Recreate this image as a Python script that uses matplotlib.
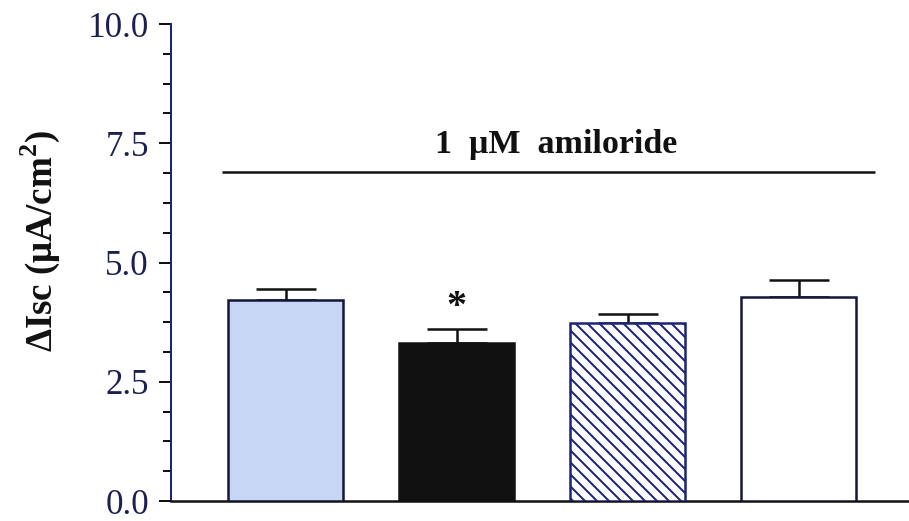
"""Amiloride-sensitive Isc bar chart."""
import matplotlib
matplotlib.use("Agg")
import matplotlib.pyplot as plt
import matplotlib.ticker as mticker
import numpy as np

plt.rcParams["font.family"] = ["Liberation Serif", "DejaVu Serif"]
plt.rcParams["mathtext.fontset"] = "custom"
plt.rcParams["mathtext.bf"] = "Liberation Serif:bold"
plt.rcParams["mathtext.rm"] = "Liberation Serif:bold"
plt.rcParams["hatch.linewidth"] = 2.0

# ── data ─────────────────────────────────────────────────────────────────────
groups = ["ctrl", "treated", "hatched", "open"]
means = [4.21, 3.31, 3.74, 4.27]
sems = [0.23, 0.29, 0.19, 0.36]
significant = [False, True, False, False]

fills = ["#c6d6f4", "#111111", "white", "white"]
hatches = [None, None, "\\\\", None]
edges = ["#14163a", "#111111", "#1c237a", "#14163a"]

NAVY = "#1b1f52"
DPI = 72

fig = plt.figure(figsize=(909 / DPI, 521 / DPI), dpi=DPI)
ax = fig.add_axes([171 / 909, 20 / 521, 738 / 909, 477 / 521])

x = np.arange(len(groups))
ax.errorbar(x, means, yerr=[np.zeros(len(sems)), sems], fmt="none",
            ecolor="#111111", elinewidth=2.5, capsize=30, capthick=2.5, zorder=2)
ax.bar(x, means, width=0.675, color=fills, edgecolor=edges, hatch=hatches,
       linewidth=2.5, zorder=3)

for xi, m, s, sig in zip(x, means, sems, significant):
    if sig:
        ax.text(xi, m + s + 0.45, "*", ha="center", va="center",
                fontsize=40, fontweight="bold", color="#111111")

# amiloride bar + label
ax.plot([-0.37, 3.45], [6.9, 6.9], color="#111111", lw=2.5, solid_capstyle="butt")
ax.text(1.58, 7.48, "1  \u03bcM  amiloride", ha="center", va="center",
        fontsize=34, fontweight="bold", color="#111111")

ax.set_xlim(-0.67, 3.646)
ax.set_ylim(0, 10)
ax.yaxis.set_major_locator(mticker.MultipleLocator(2.5))
ax.yaxis.set_minor_locator(mticker.MultipleLocator(0.625))
ax.yaxis.set_major_formatter(mticker.FormatStrFormatter("%.1f"))
ax.set_xticks([])

for side in ("top", "right"):
    ax.spines[side].set_visible(False)
ax.spines["left"].set_color("#1c2278")
ax.spines["left"].set_linewidth(2)
ax.spines["bottom"].set_color("#111111")
ax.spines["bottom"].set_linewidth(2.5)

ax.tick_params(axis="y", which="major", length=12, width=2, color="#111111",
               labelsize=35, labelcolor=NAVY, pad=10)
ax.tick_params(axis="y", which="minor", length=8, width=2, color="#111111")

fig.text(40 / 909, 1 - 241 / 521, "\u0394Isc (\u03bcA/cm$^{\\mathbf{2}}$)", rotation=90,
         ha="center", va="center", fontsize=37, fontweight="bold", color="#111111")

fig.savefig("out.png", dpi=DPI)
